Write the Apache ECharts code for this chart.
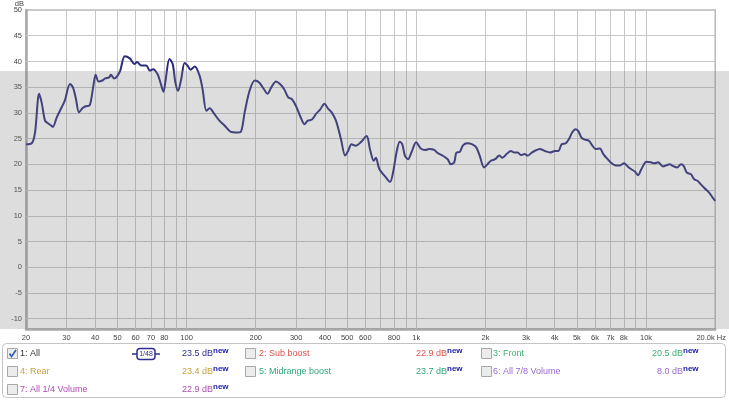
<!DOCTYPE html>
<html><head><meta charset="utf-8">
<script src="https://cdn.jsdelivr.net/npm/echarts@6/dist/echarts.min.js"></script>
<style>html,body{margin:0;padding:0;background:#fff}#c{width:729px;height:400px}</style>
</head><body><div id="c"></div>
<script>
// ---- data ----
const freqs = [20,21.2,21.9,22.8,23.4,24.2,24.9,25.8,26.2,27.2,28.6,29.5,31.1,32.0,33.0,34.0,35.2,36.4,37.9,39.3,
  40.2,41.4,43.0,44.2,46.0,46.8,48.4,51.2,53.8,56.6,59.3,60.8,63.5,66.7,69.3,71.5,74.8,77.3,79.3,81.0,
  84.2,87.0,89.4,91.8,94.8,98.0,101,104,108.5,114,117.4,122,126,132,139,146,156,164,172,179,
  188,198,207,218,225,234,245,255,266,277,287,299,312,326,337,351,366,382,398,412,
  428,447,470,490,505,522,545,573,608,628,653,667,690,736,769,794,820,847,869,892,
  921,952,998,1045,1093,1139,1197,1238,1302,1369,1414,1462,1495,1545,1597,1667,1753,1824,1887,1972,
  2040,2111,2205,2295,2373,2470,2582,2670,2762,2858,2957,3059,3165,3275,3446,3626,3815,4015,4149,4293,
  4466,4615,4769,4933,5064,5235,5413,5635,5829,6030,6298,6516,6811,7088,7376,7700,8020,8318,8600,8940,
  9240,9550,10040,10480,10900,11280,11850,12240,12650,13200,13650,14200,14570,15060,15670,16200,16750,17320,18030,18820,
  19470,20000];
const levels = [23.9,24.1,26.2,33.7,32.0,28.5,28.0,27.5,27.3,29.1,31.1,32.4,35.6,35.0,32.7,30.1,30.9,31.3,31.5,35.3,
  37.4,36.1,36.3,36.7,36.9,37.4,36.7,38.0,41.0,40.6,39.5,39.9,39.2,39.2,38.2,38.5,37.5,35.6,34.1,36.3,
  40.5,39.5,35.9,34.3,36.6,39.7,39.2,38.4,39.0,37.2,34.6,30.4,30.9,29.8,28.5,27.6,26.3,26.2,26.3,30.1,
  34.3,36.3,35.9,34.5,33.7,35.0,36.1,35.6,34.6,33.0,32.7,31.4,29.4,27.8,28.5,28.7,29.8,30.7,31.8,30.9,
  30.1,28.5,24.9,21.7,22.6,23.9,23.6,24.3,25.5,23.0,20.7,21.3,19.1,17.5,16.6,18.7,22.3,24.4,23.9,21.7,
  21.0,22.3,24.3,23.1,22.8,23.0,22.8,22.2,21.7,21.0,20.0,20.4,22.3,22.4,23.7,24.1,23.9,23.3,21.7,19.4,
  20.0,20.7,21.0,21.7,21.3,22.0,22.6,22.3,22.3,21.8,22.0,21.7,22.2,22.6,23.0,22.6,22.3,22.6,22.6,23.9,
  24.1,24.9,26.2,26.8,26.5,25.2,24.8,24.6,23.7,23.0,23.1,22.0,21.0,20.2,19.8,19.8,20.2,19.6,19.1,18.6,
  17.9,19.1,20.5,20.4,20.2,20.4,19.6,19.8,20.0,19.6,19.4,20.0,19.7,18.4,18.1,17.1,16.8,16.1,15.3,14.5,
  13.6,12.9];
const xTickLabels = [20,30,40,50,60,70,80,100,200,300,400,500,600,800,1000,2000,3000,4000,5000,6000,7000,8000,10000,20000];
const xGridLines = [30,40,50,60,70,80,90,100,200,300,400,500,600,700,800,900,1000,2000,3000,4000,5000,6000,7000,8000,9000,10000];
const yTickLabels = [-10,-5,0,5,10,15,20,25,30,35,40,45,50];
const yGridLines = [-10,-5,0,5,10,15,20,25,30,35,40,45];
const legendNames = ['1: All','2: Sub boost','3: Front','4: Rear','5: Midrange boost','6: All 7/8 Volume','7: All 1/4 Volume'];
const legendValues = ['23.5','22.9','20.5','23.4','23.7','8.0','22.9'];
const legendColors = ['#2e2e8e','#e0504a','#3cb070','#c9a040','#2fa878','#9a68d0','#b04cb0'];
const legendChecked = [true,false,false,false,false,false,false];

// ---- chart ----
const FONT = 'Liberation Sans';
const chart = echarts.init(document.getElementById('c'), null, {renderer:'canvas'});
const seriesData = freqs.map((f,i)=>[f, levels[i]]);

const gridLineData = xGridLines.map(v=>({xAxis:v})).concat(yGridLines.map(v=>({yAxis:v})));

const graphics = [];
graphics.push({type:'text', x:24, y:4, silent:true,
  style:{text:'dB', fill:'#444', font:'7.5px '+FONT, align:'right', verticalAlign:'middle'}});
graphics.push({type:'rect', shape:{x:2.5,y:343.5,width:723,height:54,r:4}, silent:true,
  style:{fill:'#fff', stroke:'#c4c4c4', lineWidth:1}});
const colBox = [7,245,481], colText = [20,259,493], colEnd = [232,466,702], rowY = [354,372,390];
legendNames.forEach((name,i)=>{
  const c = i%3, r = Math.floor(i/3), y = rowY[r];
  graphics.push({type:'rect', shape:{x:colBox[c]+0.5,y:y-5.5,width:10,height:10}, silent:true,
    style:{fill:'#ececec', stroke:'#a8a8a8', lineWidth:1}});
  if (legendChecked[i]) {
    graphics.push({type:'polyline', shape:{points:[[colBox[c]+2.5,y-0.5],[colBox[c]+4.5,y+2.5],[colBox[c]+9,y-4]]}, silent:true,
      style:{stroke:'#2f5fb0', lineWidth:1.6, fill:null}});
  }
  graphics.push({type:'text', x:colText[c], y:y, silent:true,
    style:{text:name, fill: i===0 ? '#333' : legendColors[i], font:'9px '+FONT, align:'left', verticalAlign:'middle'}});
  graphics.push({type:'text', x:colEnd[c]-19, y:y, silent:true,
    style:{text:legendValues[i]+' dB', fill:legendColors[i], font:'9px '+FONT, align:'right', verticalAlign:'middle'}});
  graphics.push({type:'text', x:colEnd[c]-19, y:y-3, silent:true,
    style:{text:'new', fill:'#1a1aa8', font:'bold 8px '+FONT, align:'left', verticalAlign:'middle'}});
});
graphics.push({type:'line', shape:{x1:132,y1:354,x2:137,y2:354}, silent:true, style:{stroke:'#2e2e8e', lineWidth:1.5}});
graphics.push({type:'line', shape:{x1:155,y1:354,x2:160,y2:354}, silent:true, style:{stroke:'#2e2e8e', lineWidth:1.5}});
graphics.push({type:'rect', shape:{x:137,y:348.5,width:18,height:11,r:3}, silent:true,
  style:{fill:'#fff', stroke:'#2e2e8e', lineWidth:1.5}});
graphics.push({type:'text', x:146, y:354, silent:true,
  style:{text:'1/48', fill:'#2e2e8e', font:'7px '+FONT, align:'center', verticalAlign:'middle'}});
graphics.push({type:'rect', shape:{x:0,y:71,width:729,height:258}, silent:true, z:100,
  style:{fill:'rgba(128,128,128,0.27)'}});

chart.setOption({
  animation:false,
  backgroundColor:'#fff',
  grid:{left:26, right:12, top:10, bottom:71, show:true, borderColor:'#b8b8b8', borderWidth:1.5, backgroundColor:'transparent'},
  xAxis:{type:'log', logBase:10, min:20, max:20000,
    axisLine:{show:true, onZero:false, lineStyle:{color:'#a8a8a8', width:2.5}},
    axisTick:{show:false}, splitLine:{show:false}, minorSplitLine:{show:false},
    axisLabel:{customValues:xTickLabels, color:'#444', fontSize:7.5, fontFamily:FONT, margin:5,
      formatter:v=> v===20000 ? '{e|20.0k Hz}' : (v>=1000 ? (v/1000)+'k' : String(v)),
      rich:{e:{color:'#444', fontSize:7.5, fontFamily:FONT, padding:[0,8,0,0]}}}
  },
  yAxis:{type:'value', min:-12, max:50,
    axisLine:{show:true, onZero:false, lineStyle:{color:'#a8a8a8', width:2.5}},
    axisTick:{show:false}, splitLine:{show:false},
    axisLabel:{customValues:yTickLabels, color:'#444', fontSize:7.5, fontFamily:FONT, margin:4}
  },
  graphic: graphics,
  series:[{
    type:'line', data:seriesData, showSymbol:false, smooth:0.3, clip:true,
    lineStyle:{color:'#2b2b7c', width:2}, z:5,
    markLine:{silent:true, symbol:['none','none'], label:{show:false}, animation:false,
      lineStyle:{color:'#c6c6c6', width:1, type:'solid'}, z:1, data:gridLineData}
  }]
});
</script></body></html>
